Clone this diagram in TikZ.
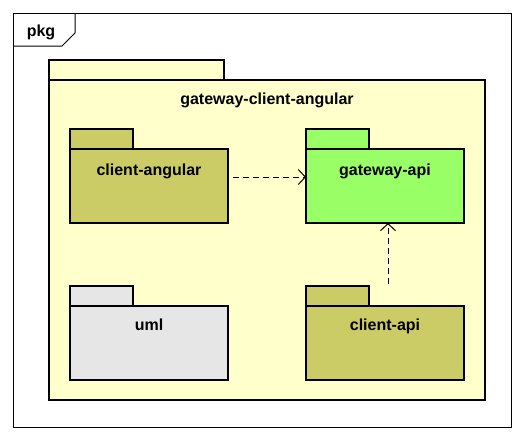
\documentclass[tikz,border=0pt]{standalone}
\usepackage{fontspec}
\setmainfont{Liberation Sans}
\usepackage{tikz}
\usetikzlibrary{positioning, arrows.meta}
\definecolor{pkgyellow}{RGB}{255,255,204}
\definecolor{pkgolive}{RGB}{204,204,102}
\definecolor{pkggreen}{RGB}{153,255,102}
\definecolor{pkggray}{RGB}{230,230,230}

\begin{document}
\begin{tikzpicture}[x=1pt, y=-1pt,
            font=\fontsize{16}{19}\selectfont\bfseries,
            pkgbody/.style={draw, line width=2.6pt, rectangle, inner sep=0pt, outer sep=0pt,
              minimum width=158pt, minimum height=74pt},
            pkgtab/.style={draw, line width=2.6pt, rectangle, inner sep=0pt, outer sep=0pt,
              minimum width=63pt, minimum height=20pt, anchor=south west},
            pkgname/.style={anchor=base, inner sep=0pt},
            dep/.style={-{Straight Barb[length=7pt, width=15pt]}, line width=1pt,
              dash pattern=on 6pt off 4pt}]
          \useasboundingbox (0,0) rectangle (525,440);
          \fill[white] (0,0) rectangle (525,440);
          \node[draw, line width=1pt, inner sep=0pt, outer sep=0pt, minimum width=498pt,
            minimum height=414pt] (frame) at (262,220) {};
          \coordinate (pkgcorner) at (75,33);
          \draw[line width=1pt] (frame.north west |- 0,46) -- (62,46) -- (pkgcorner)
            -- (pkgcorner |- frame.north);
          \node[pkgname] (pkglabel) at (41,36) {pkg};

          \node[draw, line width=2.6pt, fill=pkgyellow, inner sep=0pt, outer sep=0pt,
            minimum width=436pt, minimum height=320pt] (outer) at (267,240) {};
          \node[pkgtab, fill=pkgyellow, minimum width=175pt] (outertab) at (outer.north west) {};
          \node[pkgname] (outerlabel) at ([yshift=-24pt]outer.north) {gateway-client-angular};

          \node[pkgbody, fill=pkgolive] (angular) at (149,186) {};
          \node[pkgtab, fill=pkgolive] (angulartab) at (angular.north west) {};
          \node[pkgname] (angularlabel) at ([yshift=-26pt]angular.north) {client-angular};

          \node[pkgbody, fill=pkggreen] (gateway) at (385,186) {};
          \node[pkgtab, fill=pkggreen] (gatewaytab) at (gateway.north west) {};
          \node[pkgname] (gatewaylabel) at ([yshift=-26pt]gateway.north) {gateway-api};

          \node[pkgbody, fill=pkggray] (uml) at (149,343) {};
          \node[pkgtab, fill=pkggray] (umltab) at (uml.north west) {};
          \node[pkgname] (umllabel) at ([yshift=-24pt]uml.north) {uml};

          \node[pkgbody, fill=pkgolive] (clientapi) at (385,343) {};
          \node[pkgtab, fill=pkgolive] (clientapitab) at (clientapi.north west) {};
          \node[pkgname] (clientapilabel) at ([yshift=-24pt]clientapi.north) {client-api};

          \draw[dep] ([xshift=5pt, yshift=9pt]angular.east) -- ([yshift=9pt]gateway.west);
          \draw[dep] ([xshift=3pt, yshift=22pt]clientapi.north) -- ([xshift=3pt]gateway.south);
        \end{tikzpicture}
\end{document}
